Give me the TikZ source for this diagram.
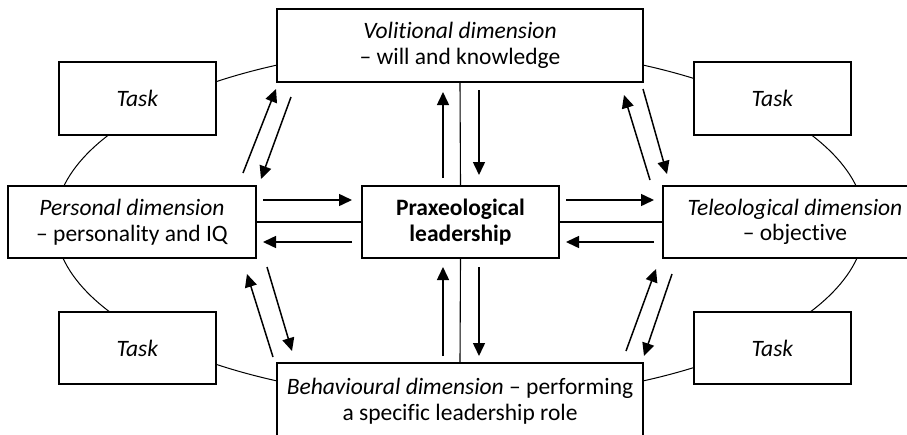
\documentclass[tikz,border=0pt]{standalone}
\usepackage{fontspec}
\setmainfont[Ligatures=NoCommon]{Carlito}
\usetikzlibrary{arrows.meta}
\begin{document}
\begin{tikzpicture}[x=1pt,y=-1pt,
  box/.style={draw, line width=1.1pt, fill=white, align=center, inner sep=2pt,
    font=\fontsize{23.5}{25.5}\selectfont},
  link/.style={line width=1.1pt},
  arr/.style={line width=1.5pt, -{Triangle[length=13pt,width=12pt]}},
  oval/.style={line width=1pt}]
\clip (0,0) rectangle (907,434);
\useasboundingbox (0,0) rectangle (907,434);
% background ellipse linking tasks and dimensions
\draw[oval] (460,223) ellipse [x radius=405pt, y radius=177pt];
% boxes
\node[box, minimum width=366pt, minimum height=73pt] (vol) at (460,45.5) {\textit{Volitional dimension}\\– will and knowledge};
\node[box, minimum width=248pt, minimum height=72pt] (per) at (132,222) {\textit{Personal dimension}\\– personality and IQ};
\node[box, minimum width=197pt, minimum height=72pt] (pra) at (460.5,222) {\textbf{Praxeological}\\\textbf{leadership}};
\node[box, minimum width=264pt, minimum height=72pt] (tel) at (795,222) {\textit{Teleological dimension}\\– objective};
\node[box, minimum width=366pt, minimum height=76pt] (beh) at (460,401) {\textit{Behavioural dimension} – performing\\a specific leadership role};
\node[box, minimum width=157pt, minimum height=73pt] (t1) at (137.5,98.5) {\textit{Task}};
\node[box, minimum width=157pt, minimum height=73pt] (t2) at (772.5,98.5) {\textit{Task}};
\node[box, minimum width=157pt, minimum height=72pt] (t3) at (137.5,348) {\textit{Task}};
\node[box, minimum width=157pt, minimum height=72pt] (t4) at (772.5,348) {\textit{Task}};
% straight links
\draw[link] (vol.south) -- (pra.north);
\draw[link] (pra.south) -- (beh.north);
\draw[link] (per.east) -- (pra.west);
\draw[link] (pra.east) -- (tel.west);
% arrow end points
\coordinate (a1) at (443,178); \coordinate (b1) at (443,92);
\coordinate (a2) at (479,90);  \coordinate (b2) at (479,175);
\coordinate (a3) at (443,356); \coordinate (b3) at (443,267);
\coordinate (a4) at (479,267); \coordinate (b4) at (479,356);
\coordinate (a5) at (263,200); \coordinate (b5) at (352,200);
\coordinate (a6) at (352,242); \coordinate (b6) at (263,242);
\coordinate (a7) at (566,200); \coordinate (b7) at (654,200);
\coordinate (a8) at (654,242); \coordinate (b8) at (566,242);
\coordinate (a9) at (243,173); \coordinate (b9) at (276,89);
\coordinate (a10) at (291,97); \coordinate (b10) at (261,179);
\coordinate (a11) at (650,180); \coordinate (b11) at (624,95);
\coordinate (a12) at (643,89); \coordinate (b12) at (667,174);
\coordinate (a13) at (273,357); \coordinate (b13) at (247,274);
\coordinate (a14) at (267,267); \coordinate (b14) at (292,351);
\coordinate (a15) at (626,351); \coordinate (b15) at (656,269);
\coordinate (a16) at (672,274); \coordinate (b16) at (644,356);
\foreach \i in {1,...,16} {\draw[arr] (a\i) -- (b\i);}
\end{tikzpicture}
\end{document}
